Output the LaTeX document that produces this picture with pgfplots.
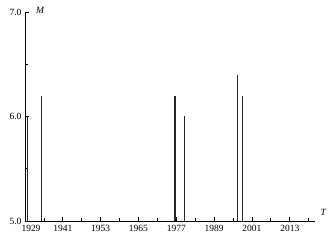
\documentclass[border=0pt]{standalone}
\usepackage{pgfplots}
\pgfplotsset{compat=1.18}
\usepackage{fontspec}
\setmainfont{Liberation Serif}
\begin{document}
\begin{tikzpicture}
\begin{axis}[
  scale only axis,
  width=290pt, height=209pt,
  xmin=1929, xmax=2021,
  ymin=5, ymax=7,
  axis lines=left,
  axis line style={-, line width=0.9pt},
  xtick={1941,1953,1965,1977,1989,2001,2013},
  extra x ticks={1929},
  extra x tick style={xticklabel style={xshift=6pt}},
  minor xtick={1935,1947,1959,1971,1983,1995,2007,2019},
  ytick={5,6,7},
  minor ytick={5.5,6.5},
  tick align=inside,
  major tick length=3.5pt, minor tick length=3pt,
  tick style={black, line width=0.8pt},
  xticklabel style={/pgf/number format/1000 sep={}, yshift=-1pt},
  yticklabel style={/pgf/number format/fixed, /pgf/number format/fixed zerofill, /pgf/number format/precision=1},
  /pgf/number format/assume math mode=true,
  ticklabel style={font=\fontsize{9.5}{11}\selectfont},
  clip=false,
]
\begin{scope}
\clip (axis cs:1929,5) rectangle (axis cs:2021,7);
\addplot[ycomb, mark=none, color=black!85, line width=0.9pt] coordinates {
  (1929.8,6.0) (1934.1,6.2) (1976.4,6.2) (1976.7,6.2) (1979.6,6.0) (1996.5,6.4) (1998.1,6.2)
};
\end{scope}
\node[font=\fontsize{9.5}{11}\selectfont\itshape] at (axis cs:1933.8,7.02) {M};
\node[font=\fontsize{9.5}{11}\selectfont\itshape] at (axis cs:2023.6,5.08) {T};
\end{axis}
\pgfresetboundingbox
\path[use as bounding box] (-25pt,-25pt) rectangle (305pt,221pt);
\end{tikzpicture}
\end{document}
